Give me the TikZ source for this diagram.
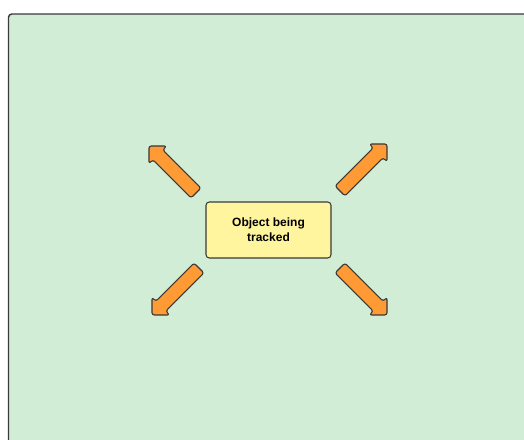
\documentclass[tikz,border=0pt]{standalone}
\usepackage{fontspec}
\setmainfont{Liberation Sans}
\definecolor{panelgreen}{HTML}{D1EDD5}
\definecolor{notefill}{HTML}{FFF59F}
\definecolor{arroworange}{HTML}{FF9A35}
\definecolor{edgegray}{HTML}{3A3A3A}
\tikzset{
  panel/.style={draw=edgegray, line width=1.1pt, fill=panelgreen, rounded corners=2.5pt},
  notebox/.style={draw=edgegray, line width=0.8pt, fill=notefill, rounded corners=2.5pt,
    minimum width=125*0.75pt, minimum height=56*0.75pt, align=center,
    font=\fontsize{9}{11}\selectfont\bfseries, inner sep=0pt},
  blockarrow/.style={draw=edgegray, line width=0.85pt, fill=arroworange, rounded corners=1.8pt, line join=round},
  pics/motionarrow/.style={code={
    % shaft along +x from the tail, right-angled head at the tip
    \path[blockarrow] (0,-7) -- (54,-7) -- (54,-12.5) -- (66.5,0) -- (54,12.5) -- (54,7) -- (0,7) -- cycle;
  }}
}
\begin{document}
\begin{tikzpicture}[x=0.75pt, y=-0.75pt]
  \useasboundingbox (0,0) rectangle (524,439);
  % background panel running off the right and bottom edges
  \path[panel] (8.5,14) rectangle (540,460);
  \node[notebox] (obj) at (268.5,230) {Object being\\tracked};
  % four directions of possible motion
  \pic at (196,193) [rotate=135] {motionarrow};
  \pic at (340,191) [rotate=45] {motionarrow};
  \pic at (199,268) [rotate=225] {motionarrow};
  \pic at (340,268) [rotate=-45] {motionarrow};
\end{tikzpicture}
\end{document}
